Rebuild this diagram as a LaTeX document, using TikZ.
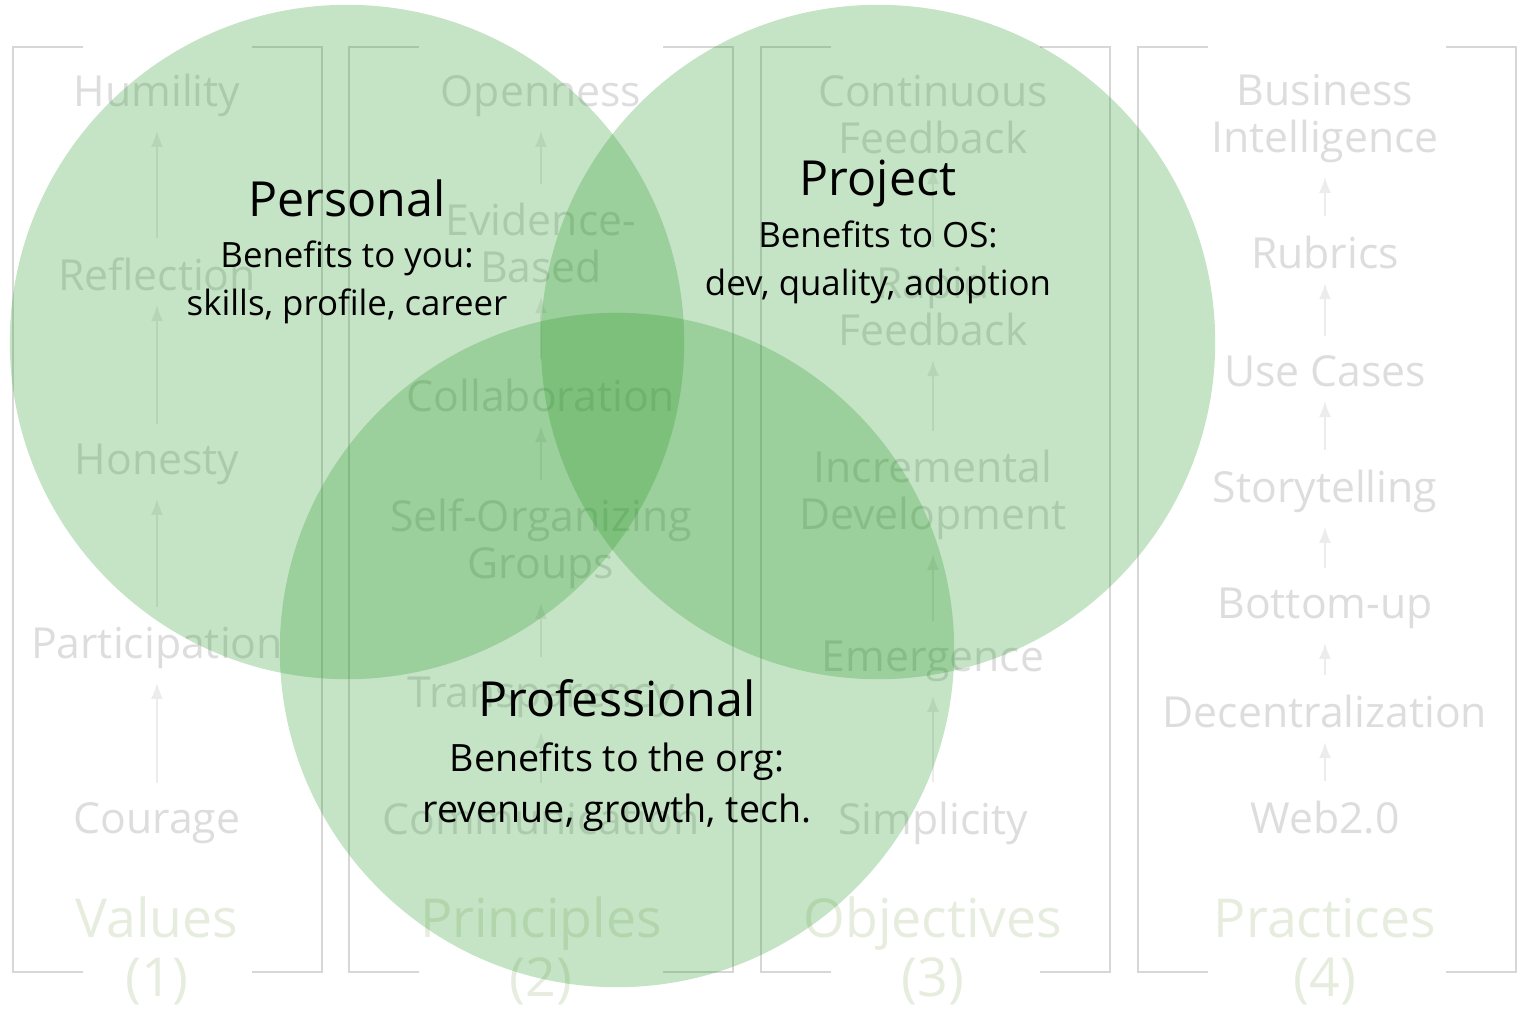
\documentclass[tikz,border=0pt]{standalone}
\usepackage{fontspec}
\setmainfont{Open Sans}
\usetikzlibrary{arrows.meta}
\definecolor{itemgray}{RGB}{221,221,221}
\definecolor{arrowgray}{RGB}{236,236,236}
\definecolor{bracketgray}{RGB}{215,215,215}
\definecolor{headgreen}{RGB}{230,237,222}
\definecolor{venngreen}{RGB}{45,154,45}
\begin{document}
\begin{tikzpicture}[x=0.01cm,y=-0.01cm,
  item/.style={anchor=base,align=center,inner sep=0pt,text=itemgray,font=\fontsize{12.15}{13.1}\selectfont},
  head/.style={anchor=base,align=center,inner sep=0pt,text=headgreen,font=\fontsize{15.25}{16.5}\selectfont},
  up/.style={draw=arrowgray,line width=0.45pt,-{Latex[length=4.5pt,width=3.4pt]},shorten <=5.3pt,shorten >=4pt},
  bracket/.style={draw=bracketgray,line width=0.6pt},
  venn/.style={fill=venngreen,fill opacity=0.28},
  title/.style={anchor=base,inner sep=0pt,font=\fontsize{13.75}{14}\selectfont},
  benefit/.style={anchor=base,align=center,inner sep=0pt,font=\fontsize{9.9}{13.4}\selectfont}]
\useasboundingbox (0,0) rectangle (1528,1009);
% brackets round the four columns
\foreach \l/\r in {13/322,349/733,761/1110,1138/1516}{
  \draw[bracket] (\l+70,47) -- (\l,47) -- (\l,972) -- (\l+70,972);
  \draw[bracket] (\r-70,47) -- (\r,47) -- (\r,972) -- (\r-70,972);
}
% values (multi-line nodes sit on their last baseline)
\node[item] (hum) at (157,106) {Humility};
\node[item] (ref) at (157,290) {Reflection};
\node[item] (hon) at (157,474) {Honesty};
\node[item] (par) at (157,658) {Participation};
\node[item] (cou) at (157,833) {Courage};
\node[head] (val) at (157,996) {Values\\(1)};
% principles
\node[item] (ope) at (541,106) {Openness};
\node[item] (evi) at (541,282) {Evidence-\\Based};
\node[item] (col) at (541,411) {Collaboration};
\node[item] (sel) at (541,578) {Self-Organizing\\Groups};
\node[item] (tra) at (541,707) {Transparency};
\node[item] (com) at (541,834) {Communication};
\node[head] (pri) at (541,996) {Principles\\(2)};
% objectives
\node[item] (con) at (933,153) {Continuous\\Feedback};
\node[item] (rap) at (933,345) {Rapid\\Feedback};
\node[item] (inc) at (933,529) {Incremental\\Development};
\node[item] (eme) at (933,671) {Emergence};
\node[item] (sim) at (933,834) {Simplicity};
\node[head] (obj) at (933,996) {Objectives\\(3)};
% practices
\node[item] (bus) at (1325,152) {Business\\Intelligence};
\node[item] (rub) at (1325,268) {Rubrics};
\node[item] (use) at (1325,386) {Use Cases};
\node[item] (sto) at (1325,502) {Storytelling};
\node[item] (bot) at (1325,618) {Bottom-up};
\node[item] (dec) at (1325,727) {Decentralization};
\node[item] (web) at (1325,833) {Web2.0};
\node[head] (pra) at (1325,996) {Practices\\(4)};
\foreach \a/\b in {cou/par,par/hon,hon/ref,ref/hum,
  com/tra,tra/sel,sel/col,col/evi,evi/ope,
  sim/eme,eme/inc,inc/rap,rap/con,
  web/dec,dec/bot,bot/sto,sto/use,use/rub,rub/bus}
  \draw[up] (\a) -- (\b);
% the three circles
\fill[venn] (347,342) circle[radius=3.37cm];
\fill[venn] (878,342) circle[radius=3.37cm];
\fill[venn] (617,650) circle[radius=3.37cm];
\node[title] (personal) at (347,216) {Personal};
\node[benefit] (personaltxt) at (347,315) {Benefits to you:\\skills, profile, career};
\node[title] (project) at (878,195) {Project};
\node[benefit] (projecttxt) at (878,295) {Benefits to OS:\\dev, quality, adoption};
\node[title] (professional) at (617,716) {Professional};
\node[benefit,font=\fontsize{10.7}{14.5}\selectfont] (professionaltxt) at (617,822) {Benefits to the org:\\revenue, growth, tech.};
\end{tikzpicture}
\end{document}
